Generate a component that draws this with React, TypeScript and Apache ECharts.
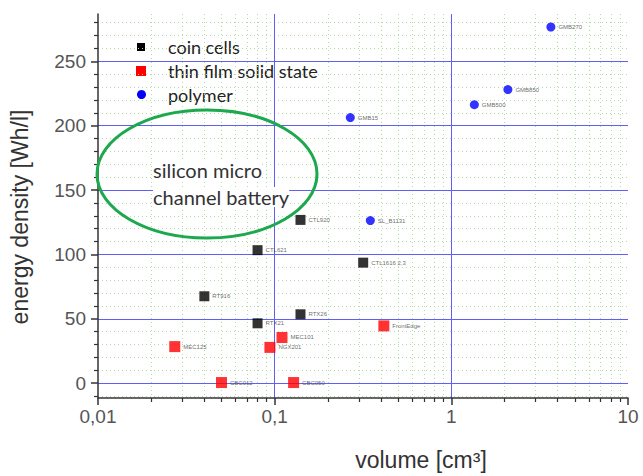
import React, { useEffect, useRef } from "react";
import * as echarts from "echarts";

// ---- data ----
const seriesNames = ["coin cells", "thin film solid state", "polymer"];

const coinNames = ["CTL920", "CTL621", "CTL1616 2,3", "RT916", "RTX26", "RTX21"];
const coinVolume = [0.14, 0.08, 0.317, 0.04, 0.14, 0.08];
const coinDensity = [126.8, 103.3, 93.6, 67.5, 53.5, 46.5];

const thinNames = ["FrontEdge", "MEC101", "NGX201", "MEC125", "CBC012", "CBC050"];
const thinVolume = [0.415, 0.11, 0.094, 0.0272, 0.05, 0.128];
const thinDensity = [44.5, 35.5, 27.8, 28.4, 0.5, 0.5];

const polyNames = ["GMB270", "GMB850", "GMB500", "GMB15", "SL_B1131"];
const polyVolume = [3.66, 2.09, 1.35, 0.268, 0.348];
const polyDensity = [276.6, 228, 216.3, 206.3, 126.3];

const xMajorTicks = [0.01, 0.1, 1, 10];
const xTickLabels = ["0,01", "0,1", "1", "10"];
const xMinorTicks = [
  0.02, 0.03, 0.04, 0.05, 0.06, 0.07, 0.08, 0.09,
  0.2, 0.3, 0.4, 0.5, 0.6, 0.7, 0.8, 0.9,
  2, 3, 4, 5, 6, 7, 8, 9,
];
const yTicks = [0, 50, 100, 150, 200, 250];
const yMinorTicks = [
  -10, 10, 20, 30, 40, 60, 70, 80, 90, 110, 120, 130, 140, 160, 170, 180, 190,
  210, 220, 230, 240, 260, 270, 280,
];

const annotationLines = ["silicon micro", "channel battery"];

const mk = (names: string[], xs: number[], ys: number[]) =>
  names.map((n, i) => ({ name: n, value: [xs[i], ys[i]] }));

export default function App() {
  const ref = useRef<HTMLDivElement>(null);
  useEffect(() => {
    if (!ref.current) return;
    const chart = echarts.init(ref.current, undefined, { renderer: "svg" });
    const axisFont = "Liberation Sans";
    const blue = "#5f5ff5";
    const green = "#b3dba8";
    const pointLabel = {
      show: true,
      position: "right" as const,
      distance: 3,
      formatter: "{b}",
      fontSize: 6,
      color: "#444",
      fontFamily: axisFont,
    };
    const option: any = {
      animation: false,
      backgroundColor: "#fff",
      grid: { left: 97, right: 15, top: 14, bottom: 73, containLabel: false },
      xAxis: [
        {
          type: "log",
          logBase: 10,
          min: 0.01,
          max: 10,
          position: "bottom",
          name: "volume [cm³]",
          nameLocation: "middle",
          nameGap: 50,
          nameTextStyle: {
            fontSize: 23,
            color: "#333",
            fontFamily: axisFont,
            padding: [0, 0, 0, 116],
          },
          axisLine: { show: true, onZero: false, lineStyle: { color: "#333", width: 1.5 } },
          axisTick: { show: true, length: 7, lineStyle: { color: "#333", width: 1.5 } },
          axisLabel: {
            fontSize: 19,
            color: "#555",
            fontFamily: axisFont,
            margin: 9,
            formatter: (v: number) => {
              const i = xMajorTicks.findIndex(
                (t) => Math.abs(Math.log10(t) - Math.log10(v)) < 1e-6
              );
              return i >= 0 ? xTickLabels[i] : "";
            },
          },
          splitLine: {
            show: true,
            showMinLine: false,
            showMaxLine: false,
            lineStyle: { color: blue, width: 1 },
          },
          z: 3,
        },
        {
          type: "log",
          logBase: 10,
          min: 0.01,
          max: 10,
          position: "bottom",
          axisLine: { show: false, onZero: false },
          axisTick: {
            show: true,
            length: 4,
            customValues: xMinorTicks,
            lineStyle: { color: "#333", width: 1.2 },
          },
          axisLabel: { show: false },
          splitLine: {
            show: true,
            lineStyle: { color: green, width: 1, type: [1, 3] },
          },
          z: 1,
        },
      ],
      yAxis: [
        {
          type: "value",
          min: -11.5,
          max: 286.7,
          splitNumber: 6,
          name: "energy density [Wh/l]",
          nameLocation: "middle",
          nameGap: 67,
          nameTextStyle: {
            fontSize: 23,
            color: "#333",
            fontFamily: axisFont,
            padding: [0, 22, 0, 0],
          },
          axisLine: { show: true, onZero: false, lineStyle: { color: "#333", width: 1.5 } },
          axisTick: {
            show: true,
            length: 7,
            lineStyle: { color: "#333", width: 1.5 },
          },
          axisLabel: {
            showMinLabel: false,
            showMaxLabel: false,
            fontSize: 19,
            color: "#555",
            fontFamily: axisFont,
            margin: 12,
            formatter: (v: number) => (yTicks.indexOf(v) >= 0 ? String(v) : ""),
          },
          splitLine: {
            show: true,
            showMinLine: false,
            showMaxLine: false,
            lineStyle: { color: blue, width: 1 },
          },
          z: 3,
        },
        {
          type: "value",
          min: -11.5,
          max: 286.7,
          position: "left",
          axisLine: { show: false, onZero: false },
          axisTick: {
            show: true,
            length: 4,
            customValues: yMinorTicks,
            lineStyle: { color: "#333", width: 1.2 },
          },
          axisLabel: { show: false },
          splitLine: {
            show: true,
            lineStyle: { color: green, width: 1, type: [1, 3] },
          },
          z: 1,
        },
      ],
      series: [
        {
          name: seriesNames[0],
          type: "scatter",
          symbol: "rect",
          symbolSize: 10,
          itemStyle: { color: "#000" },
          label: pointLabel,
          data: mk(coinNames, coinVolume, coinDensity),
          z: 5,
        },
        {
          name: seriesNames[1],
          type: "scatter",
          symbol: "rect",
          symbolSize: 11,
          itemStyle: { color: "#ff0000" },
          label: pointLabel,
          data: mk(thinNames, thinVolume, thinDensity),
          z: 5,
        },
        {
          name: seriesNames[2],
          type: "scatter",
          symbol: "circle",
          symbolSize: 9,
          itemStyle: { color: "#0000ff" },
          label: pointLabel,
          data: mk(polyNames, polyVolume, polyDensity),
          z: 5,
        },
      ],
      graphic: [
        {
          type: "group",
          left: 136,
          top: 38,
          z: 10,
          children: [
            { type: "rect", shape: { x: 0, y: 1, width: 8, height: 8 }, style: { fill: "#000" } },
            { type: "rect", shape: { x: -1, y: 24, width: 10, height: 10 }, style: { fill: "#ff0000" } },
            { type: "circle", shape: { cx: 4.5, cy: 52.5, r: 4.5 }, style: { fill: "#0000ff" } },
            {
              type: "text",
              x: 31,
              y: 5,
              style: { text: seriesNames[0], fontSize: 18, fill: "#222", fontFamily: "Lato", verticalAlign: "middle" },
            },
            {
              type: "text",
              x: 31,
              y: 29,
              style: { text: seriesNames[1], fontSize: 18, fill: "#222", fontFamily: "Lato", verticalAlign: "middle" },
            },
            {
              type: "text",
              x: 31,
              y: 53,
              style: { text: seriesNames[2], fontSize: 18, fill: "#222", fontFamily: "Lato", verticalAlign: "middle" },
            },
          ],
        },
        {
          type: "ellipse",
          shape: { cx: 207, cy: 174, rx: 110, ry: 64 },
          style: { fill: "none", stroke: "#1ca84d", lineWidth: 3 },
          z: 10,
        },
        {
          type: "text",
          x: 153,
          y: 170,
          z: 10,
          style: {
            text: annotationLines[0],
            fontSize: 20,
            fill: "#333",
            fontFamily: "Lato",
            verticalAlign: "middle",
            backgroundColor: "#fff",
          },
        },
        {
          type: "text",
          x: 153,
          y: 197,
          z: 10,
          style: {
            text: annotationLines[1],
            fontSize: 20,
            fill: "#333",
            fontFamily: "Lato",
            verticalAlign: "middle",
            backgroundColor: "#fff",
          },
        },
      ],
    };
    chart.setOption(option);
    return () => chart.dispose();
  }, []);
  return (
    <div
      ref={ref}
      style={{ position: "absolute", left: 0, top: 0, width: 643, height: 476 }}
    />
  );
}
